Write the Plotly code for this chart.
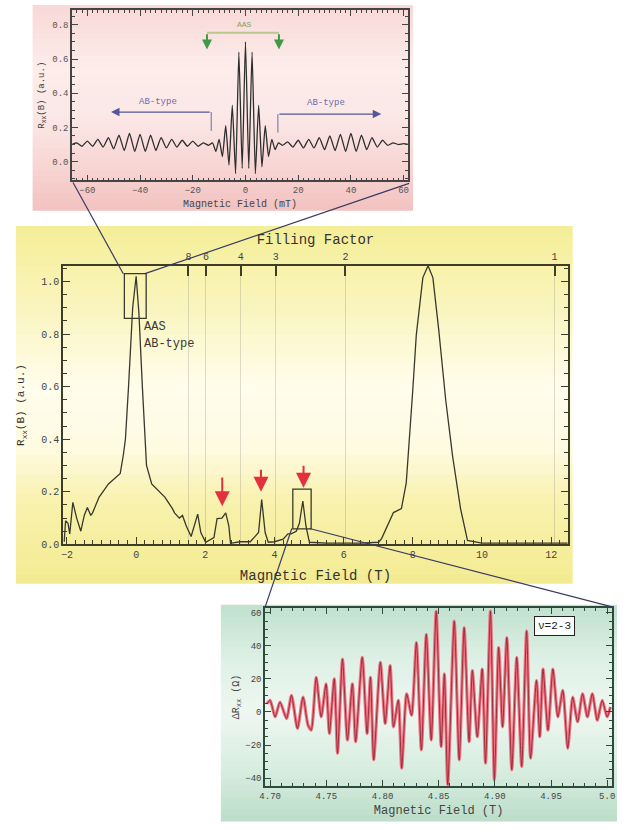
import plotly.graph_objects as go

W, H = 623, 830

# ---------------- data ----------------
# main panel: R_xx vs magnetic field (T)
main_B = [-2.08, -2.04, -1.97, -1.92, -1.83, -1.72, -1.60, -1.50, -1.41, -1.31, -1.26, -1.07,
          -0.80, -0.46, -0.37, -0.31, -0.22, -0.10, 0.0, 0.08, 0.18, 0.26, 0.30, 0.45, 0.83,
          1.05, 1.11, 1.25, 1.34, 1.45, 1.59, 1.78, 1.87, 2.01, 2.25, 2.34, 2.48, 2.59, 2.68,
          2.73, 3.0, 3.30, 3.44, 3.54, 3.63, 3.73, 3.82, 4.0, 4.25, 4.39, 4.48, 4.63, 4.72,
          4.82, 4.91, 5.01, 5.5, 6.0, 6.5, 7.01, 7.10, 7.44, 7.67, 7.81, 7.90, 8.00, 8.10,
          8.29, 8.44, 8.58, 8.75, 8.95, 9.15, 9.38, 9.58, 10.0, 11.0, 12.0, 12.48]
main_R = [0.01, 0.09, 0.08, 0.04, 0.16, 0.10, 0.05, 0.11, 0.14, 0.11, 0.12, 0.18,
          0.23, 0.27, 0.34, 0.40, 0.60, 0.90, 1.02, 0.88, 0.60, 0.37, 0.30, 0.23, 0.18,
          0.136, 0.12, 0.10, 0.11, 0.07, 0.03, 0.115, 0.045, 0.008, 0.026, 0.098, 0.10, 0.12, 0.07,
          0.004, 0.01, 0.01, 0.03, 0.045, 0.17, 0.045, 0.008, 0.01, 0.02, 0.04, 0.04, 0.05, 0.08,
          0.165, 0.07, 0.008, 0.005, 0.005, 0.005, 0.008, 0.023, 0.121, 0.136, 0.234, 0.385, 0.589, 0.796,
          1.015, 1.06, 1.015, 0.815, 0.55, 0.336, 0.136, 0.015, 0.005, 0.005, 0.005, 0.005]

# filling-factor axis
nu_labels = [8, 6, 4, 3, 2, 1]
nu_times_B = 12.1

# red arrows (B position, tail value, tip value)
arrow_B = [2.49, 3.61, 4.84]
arrow_tail = [0.26, 0.29, 0.305]
arrow_tip = [0.145, 0.20, 0.215]

# top inset: low-field oscillations (mT)
inset_mT = [-66, -64, -62, -60, -58, -56, -54, -52, -50, -48, -46, -44, -42, -40, -38, -36,
            -34, -32, -30, -28, -26, -24, -22, -20, -18, -16, -14, -12.5, -11.25, -10, -8.75,
            -7.5, -6.25, -5, -3.75, -2.5, -1.25, 0, 1.25, 2.5, 3.75, 5, 6.25, 7.5, 8.75, 10,
            11.25, 12.5, 14, 16, 18, 20, 22, 24, 26, 28, 30, 32, 34, 36, 38, 40, 42, 44, 46,
            48, 50, 52, 54, 56, 58, 60, 62]
inset_R = [0.10, 0.11, 0.09, 0.12, 0.09, 0.13, 0.085, 0.14, 0.075, 0.155, 0.065, 0.165, 0.06, 0.16, 0.06, 0.155,
           0.065, 0.14, 0.08, 0.13, 0.085, 0.125, 0.09, 0.12, 0.09, 0.11, 0.095, 0.11, 0.06, 0.13, 0.03,
           0.21, -0.02, 0.33, -0.07, 0.64, -0.04, 0.70, -0.04, 0.64, -0.07, 0.33, -0.03, 0.21, 0.03, 0.13,
           0.07, 0.11, 0.095, 0.115, 0.085, 0.125, 0.08, 0.13, 0.08, 0.14, 0.07, 0.15, 0.065, 0.16, 0.06, 0.165, 0.06, 0.155, 0.07,
           0.14, 0.085, 0.125, 0.095, 0.11, 0.10, 0.105, 0.10]

# bottom inset: ΔR_xx (Ω) vs field (T), ν = 2-3
zoom_B = [4.6971, 4.7000, 4.7044, 4.7088, 4.7146, 4.7190, 4.7243, 4.7293, 4.7337, 4.7366, 4.7410,
          4.7454, 4.7498, 4.7527, 4.7571, 4.7600, 4.7644, 4.7688, 4.7732, 4.7761, 4.7820, 4.7863,
          4.7893, 4.7922, 4.7981, 4.8024, 4.8068, 4.8098, 4.8141, 4.8171, 4.8215, 4.8259, 4.8302,
          4.8346, 4.8390, 4.8434, 4.8478, 4.8522, 4.8551, 4.8581, 4.8639, 4.8683, 4.8727, 4.8771,
          4.8800, 4.8844, 4.8888, 4.8917, 4.8961, 4.8996, 4.9034, 4.9069, 4.9107, 4.9151, 4.9195,
          4.9239, 4.9283, 4.9318, 4.9371, 4.9400, 4.9429, 4.9473, 4.9517, 4.9561, 4.9605, 4.9649,
          4.9693, 4.9737, 4.9781, 4.9824, 4.9868, 4.9912, 4.9956, 5.0000, 5.0029]
zoom_dR = [5, 7, -3, 6, -4, 10, -10, 9, -8, -11, 21,
           -3, 17, -13, 20, -25, 32, -17, 17, -18, 33, -13,
           21, -29, 30, -7, 28, -9, 7, -34, 11, -2, 42,
           -23, 47, -17, 61, -21, 23, -44, 55, -29, 51, -18,
           25, -15, 26, -31, 61, -41, 39, -9, 45, -35, 33,
           -33, 49, -28, 19, -15, 26, -11, 26, -3, 13, -22,
           9, -6, 11, -3, 11, -5, 7, -3, 3]
zoom_tickvals = [4.70, 4.75, 4.80, 4.85, 4.90, 4.95, 5.00]
zoom_ticktext = ["4.70", "4.75", "4.80", "4.85", "4.90", "4.95", "5.0"]

# ---------------- helpers ----------------
MONO = "Liberation Mono, DejaVu Sans Mono, monospace"


def px(x):
    return x / W


def py(y):
    return 1 - y / H


def interp_color(stops, f):
    for i in range(len(stops) - 1):
        f0, c0 = stops[i]
        f1, c1 = stops[i + 1]
        if f0 <= f <= f1:
            t = (f - f0) / (f1 - f0) if f1 > f0 else 0
            c = [round(c0[k] + (c1[k] - c0[k]) * t) for k in range(3)]
            return "rgb(%d,%d,%d)" % tuple(c)
    c = stops[-1][1]
    return "rgb(%d,%d,%d)" % tuple(c)


def bands(x0, x1, y0, y1, stops, n=36):
    out = []
    for i in range(n):
        f0, f1 = i / n, (i + 1) / n
        col = interp_color(stops, (f0 + f1) / 2)
        ya = y0 + (y1 - y0) * f0
        yb = y0 + (y1 - y0) * f1 + 0.6
        out.append(dict(type="rect", xref="paper", yref="paper", x0=px(x0), x1=px(x1),
                        y0=py(yb), y1=py(ya), fillcolor=col, line=dict(width=0), layer="below"))
    return out


shapes = []
# panel backgrounds
shapes += bands(27, 413, 5, 212, [(0, (248, 216, 214)), (0.3, (252, 236, 234)), (0.55, (251, 232, 230)),
                                  (0.8, (247, 212, 210)), (1, (242, 194, 192))])
shapes += bands(10, 575, 228, 588, [(0, (245, 238, 150)), (0.2, (249, 244, 185)), (0.45, (255, 253, 236)),
                                    (0.62, (254, 251, 226)), (0.78, (248, 241, 172)), (1, (243, 235, 145))])
shapes += bands(218, 620, 610, 828, [(0, (192, 224, 205)), (0.25, (222, 240, 229)), (0.5, (238, 247, 241)),
                                     (0.78, (214, 236, 222)), (1, (188, 221, 201))])

# ---------------- traces ----------------
fig = go.Figure()
fig.add_trace(go.Scatter(x=main_B, y=main_R, mode="lines", xaxis="x", yaxis="y",
                         line=dict(color="#38382c", width=1.3), showlegend=False, hoverinfo="skip"))
fig.add_trace(go.Scatter(x=[None], y=[None], mode="lines", xaxis="x4", yaxis="y",
                         showlegend=False, hoverinfo="skip"))
fig.add_trace(go.Scatter(x=inset_mT, y=inset_R, mode="lines", xaxis="x2", yaxis="y2",
                         line=dict(color="#2e2e2e", width=1.3, shape="spline", smoothing=0.5),
                         showlegend=False, hoverinfo="skip"))
fig.add_trace(go.Scatter(x=zoom_B, y=zoom_dR, mode="lines", xaxis="x3", yaxis="y3",
                         line=dict(color="#ec7684", width=3.2, shape="spline", smoothing=0.6),
                         showlegend=False, hoverinfo="skip"))
fig.add_trace(go.Scatter(x=zoom_B, y=zoom_dR, mode="lines", xaxis="x3", yaxis="y3",
                         line=dict(color="#9a2232", width=0.9, shape="spline", smoothing=0.6),
                         showlegend=False, hoverinfo="skip"))

# ---------------- boxes & connectors ----------------
box_style = dict(color="#3a3a2a", width=1.3)
shapes.append(dict(type="rect", xref="x", yref="y", x0=-0.34, x1=0.29, y0=0.86, y1=1.03,
                   line=box_style, layer="above"))
shapes.append(dict(type="rect", xref="x", yref="y", x0=4.53, x1=5.06, y0=0.059, y1=0.21,
                   line=box_style, layer="above"))
conn = dict(color="#3a3a66", width=1.2)
for (xa, ya, xb, yb) in [(68, 184, 119, 276), (409, 185, 141, 276),
                         (290, 533, 263, 612), (308, 533, 615, 612)]:
    shapes.append(dict(type="line", xref="paper", yref="paper", x0=px(xa), y0=py(ya),
                       x1=px(xb), y1=py(yb), line=conn, layer="above"))

# top inset decorations
shapes.append(dict(type="line", xref="x2", yref="y2", x0=-14.6, x1=12.7, y0=0.754, y1=0.754,
                   line=dict(color="#b9c98e", width=2), layer="above"))
shapes.append(dict(type="line", xref="x2", yref="y2", x0=-13, x1=-13, y0=0.29, y1=0.18,
                   line=dict(color="#6a6aa0", width=1), layer="above"))
shapes.append(dict(type="line", xref="x2", yref="y2", x0=12.3, x1=12.3, y0=0.278, y1=0.17,
                   line=dict(color="#6a6aa0", width=1), layer="above"))

annotations = []
for b, t0, t1 in zip(arrow_B, arrow_tail, arrow_tip):
    annotations.append(dict(x=b, y=t1, ax=b, ay=t0, xref="x", yref="y", axref="x", ayref="y",
                            text="", showarrow=True, arrowhead=2, arrowsize=1.5, arrowwidth=2,
                            arrowcolor="#e4303c"))
annotations.append(dict(x=0.17, y=0.826, xref="x", yref="y", text="AAS", showarrow=False,
                        xanchor="left", font=dict(family=MONO, size=12, color="#3a3a30")))
annotations.append(dict(x=0.17, y=0.762, xref="x", yref="y", text="AB-type", showarrow=False,
                        xanchor="left", font=dict(family=MONO, size=12, color="#3a3a30")))
# inset arrows
annotations.append(dict(x=-51, y=0.29, ax=-13, ay=0.29, xref="x2", yref="y2", axref="x2", ayref="y2",
                        text="", showarrow=True, arrowhead=2, arrowsize=1.3, arrowwidth=1.3,
                        arrowcolor="#55559a"))
annotations.append(dict(x=51.5, y=0.278, ax=12.3, ay=0.278, xref="x2", yref="y2", axref="x2", ayref="y2",
                        text="", showarrow=True, arrowhead=2, arrowsize=1.3, arrowwidth=1.3,
                        arrowcolor="#55559a"))
annotations.append(dict(x=-33, y=0.35, xref="x2", yref="y2", text="AB-type", showarrow=False,
                        font=dict(family=MONO, size=9, color="#6c6cb0")))
annotations.append(dict(x=30.5, y=0.34, xref="x2", yref="y2", text="AB-type", showarrow=False,
                        font=dict(family=MONO, size=9, color="#6c6cb0")))
annotations.append(dict(x=-0.5, y=0.80, xref="x2", yref="y2", text="AAS", showarrow=False,
                        font=dict(family=MONO, size=8, color="#8aa060")))
for xg in (-14.6, 12.7):
    annotations.append(dict(x=xg, y=0.655, ax=xg, ay=0.754, xref="x2", yref="y2", axref="x2", ayref="y2",
                            text="", showarrow=True, arrowhead=2, arrowsize=1.0, arrowwidth=2,
                            arrowcolor="#3f9a45"))
annotations.append(dict(x=px(577), y=py(641), xref="paper", yref="paper", text="ν=2-3", showarrow=False,
                        bordercolor="#222", borderwidth=1, borderpad=3, bgcolor="rgba(255,255,255,0.9)",
                        font=dict(family=MONO, size=11, color="#222")))

# ---------------- axes ----------------
tickfont = dict(family=MONO, size=10, color="#444")
main_line = "#3d3d28"

fig.update_layout(
    width=W, height=H, margin=dict(l=0, r=0, t=0, b=0),
    paper_bgcolor="white", plot_bgcolor="rgba(0,0,0,0)",
    showlegend=False, shapes=shapes, annotations=annotations,
    xaxis=dict(domain=[px(58), px(570)], anchor="y", range=[-2.11, 12.48],
               tick0=0, dtick=2, ticks="inside", ticklen=7, tickcolor=main_line,
               minor=dict(dtick=0.25, ticks="inside", ticklen=4, tickcolor=main_line),
               showline=True, linecolor=main_line, linewidth=2, showgrid=False, zeroline=False,
               tickfont=tickfont,
               title=dict(text="Magnetic Field (T)", font=dict(family=MONO, size=14, color="#333"),
                          standoff=10)),
    yaxis=dict(domain=[py(549), py(268)], anchor="x", range=[0, 1.06],
               dtick=0.2, tickformat=".1f", ticks="inside", ticklen=7, tickcolor=main_line,
               minor=dict(dtick=0.05, ticks="inside", ticklen=4, tickcolor=main_line),
               showline=True, linecolor=main_line, linewidth=2, mirror="ticks",
               showgrid=False, zeroline=False, tickfont=tickfont,
               title=dict(text="R<sub>xx</sub>(B) (a.u.)", font=dict(family=MONO, size=11, color="#333"),
                          standoff=14)),
    xaxis4=dict(overlaying="x", side="top", anchor="y", range=[-2.11, 12.48],
                tickvals=[nu_times_B / n for n in nu_labels], ticktext=[str(n) for n in nu_labels],
                ticks="inside", ticklen=10, tickcolor=main_line, tickwidth=1.5,
                showline=True, linecolor=main_line, linewidth=2,
                showgrid=True, gridcolor="rgba(120,120,110,0.25)", gridwidth=1, zeroline=False,
                tickfont=tickfont,
                title=dict(text="Filling Factor", font=dict(family=MONO, size=14, color="#333"),
                           standoff=4)),
    xaxis2=dict(domain=[px(67), px(408)], anchor="y2", range=[-65.8, 61.7],
                dtick=20, ticks="inside", ticklen=6, tickcolor="#444",
                minor=dict(dtick=2, ticks="inside", ticklen=3, tickcolor="#444"),
                showline=True, linecolor="#444", linewidth=1.5, mirror="ticks",
                showgrid=False, zeroline=False, tickfont=dict(family=MONO, size=9, color="#555"),
                title=dict(text="Magnetic Field (mT)", font=dict(family=MONO, size=10, color="#444"),
                           standoff=5)),
    yaxis2=dict(domain=[py(182), py(10)], anchor="x2", range=[-0.11, 0.887],
                dtick=0.2, tickformat=".1f", ticks="inside", ticklen=6, tickcolor="#444",
                minor=dict(dtick=0.05, ticks="inside", ticklen=3, tickcolor="#444"),
                showline=True, linecolor="#444", linewidth=1.5, mirror="ticks",
                showgrid=False, zeroline=False, tickfont=dict(family=MONO, size=9, color="#555"),
                title=dict(text="R<sub>xx</sub>(B) (a.u.)", font=dict(family=MONO, size=9, color="#444"),
                           standoff=6)),
    xaxis3=dict(domain=[px(263), px(615)], anchor="y3", range=[4.6956, 5.0044],
                tickvals=zoom_tickvals, ticktext=zoom_ticktext, ticks="inside", ticklen=6,
                tickcolor="#2e4a3a",
                minor=dict(dtick=0.01, ticks="inside", ticklen=3, tickcolor="#2e4a3a"),
                showline=True, linecolor="#2e4a3a", linewidth=1.8, mirror="ticks",
                showgrid=False, zeroline=False, tickfont=dict(family=MONO, size=9, color="#444"),
                title=dict(text="Magnetic Field (T)", font=dict(family=MONO, size=12, color="#444"),
                           standoff=5)),
    yaxis3=dict(domain=[py(793), py(613)], anchor="x3", range=[-45, 63],
                dtick=20, ticks="inside", ticklen=6, tickcolor="#2e4a3a",
                minor=dict(dtick=5, ticks="inside", ticklen=3, tickcolor="#2e4a3a"),
                showline=True, linecolor="#2e4a3a", linewidth=1.8, mirror="ticks",
                showgrid=False, zeroline=False, tickfont=dict(family=MONO, size=9, color="#444"),
                title=dict(text="ΔR<sub>xx</sub> (Ω)", font=dict(family=MONO, size=10, color="#444"),
                           standoff=4)),
)

fig.write_html("out.html")
